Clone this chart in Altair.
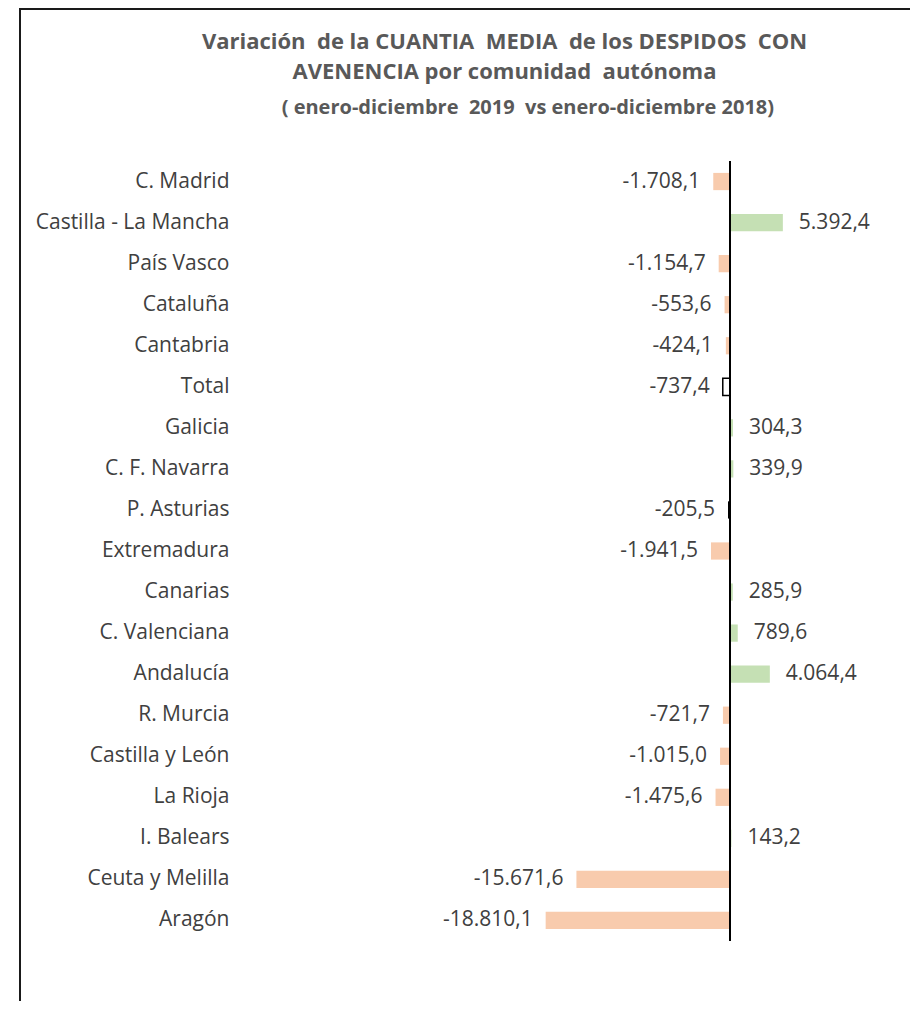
import altair as alt
import pandas as pd

categorias = ["C. Madrid", "Castilla - La Mancha", "País Vasco", "Cataluña", "Cantabria",
              "Total", "Galicia", "C. F. Navarra", "P. Asturias", "Extremadura", "Canarias",
              "C. Valenciana", "Andalucía", "R. Murcia", "Castilla y León", "La Rioja",
              "I. Balears", "Ceuta y Melilla", "Aragón"]
variacion = [-1708.1, 5392.4, -1154.7, -553.6, -424.1, -737.4, 304.3, 339.9, -205.5,
             -1941.5, 285.9, 789.6, 4064.4, -721.7, -1015.0, -1475.6, 143.2, -15671.6, -18810.1]

def fmt(v):
    s = f"{v:,.1f}"
    return s.replace(",", "X").replace(".", ",").replace("X", ".")

def tipo(c, v):
    if c == "Total":
        return "total"
    if c == "P. Asturias":
        return "destacado"
    return "pos" if v >= 0 else "neg"

df = pd.DataFrame({
    "cat": categorias,
    "val": variacion,
    "label": [fmt(v) for v in variacion],
    "tipo": [tipo(c, v) for c, v in zip(categorias, variacion)],
})

FONT = "Open Sans"
TXT = "#404040"
XDOM = [-50510, 18367]
FS = 21
SP = "\u00a0 "

y_enc = alt.Y("cat:N", sort=categorias, title=None,
              scale=alt.Scale(paddingInner=0.58, paddingOuter=0.29),
              axis=alt.Axis(domain=False, ticks=False, labelPadding=6, labelFont=FONT,
                            labelFontSize=FS, labelColor=TXT, labelLimit=300))
x_enc = alt.X("val:Q", title=None, axis=None,
              scale=alt.Scale(domain=XDOM, nice=False, zero=False))

base = alt.Chart(df)

bars = base.mark_bar(strokeWidth=1.5).encode(
    y=y_enc, x=x_enc, x2=alt.datum(0),
    fill=alt.Fill("tipo:N", legend=None,
                  scale=alt.Scale(domain=["neg", "pos", "total", "destacado"],
                                  range=["#F8CBAD", "#C5E0B4", "#FFFFFF", "#000000"])),
    stroke=alt.value("black"),
    strokeOpacity=alt.condition("datum.tipo == 'total'", alt.value(1), alt.value(0)),
)

neg_labels = base.transform_filter("datum.val < 0").mark_text(
    align="right", baseline="middle", dx=-13, font=FONT, fontSize=FS, color=TXT
).encode(y=y_enc, x=x_enc, text="label:N")

pos_labels = base.transform_filter("datum.val >= 0").mark_text(
    align="left", baseline="middle", dx=16, font=FONT, fontSize=FS, color=TXT
).encode(y=y_enc, x=x_enc, text="label:N")

zero = alt.Chart(pd.DataFrame({"z": [0]})).mark_rule(color="black", strokeWidth=2).encode(
    x=alt.X("z:Q", scale=alt.Scale(domain=XDOM, nice=False, zero=False), axis=None)
)

frame_left = alt.Chart(pd.DataFrame({"z": [0]})).mark_rule(color="#1a1a1a", strokeWidth=2).encode(
    x=alt.value(-215), y=alt.value(-152), y2=alt.value(900))
frame_top = alt.Chart(pd.DataFrame({"z": [0]})).mark_rule(color="#1a1a1a", strokeWidth=2).encode(
    x=alt.value(-216), x2=alt.value(700), y=alt.value(-152))

chart = alt.layer(bars, zero, neg_labels, pos_labels, frame_left, frame_top).properties(
    width=675, height=780,
    autosize=alt.AutoSizeParams(type="none"),
    padding={"left": 227, "top": 153, "right": 0, "bottom": 60},
    title=alt.Title(
        text=[f"Variación{SP}de la CUANTIA{SP}MEDIA{SP}de los DESPIDOS{SP}CON",
              f"AVENENCIA por comunidad{SP}autónoma"],
        subtitle="\u200b" + "\u00a0" * 8 + f" ( enero-diciembre{SP}2019{SP}vs enero-diciembre 2018)",
        anchor="middle", frame="group", dx=-68, offset=-111,
        font=FONT, fontSize=22, fontWeight="bold", color="#595959", lineHeight=30,
        subtitleFont=FONT, subtitleFontSize=20, subtitleFontWeight="bold",
        subtitleColor="#595959", subtitlePadding=14,
    ),
).configure_view(stroke=None)

chart.save("out.html", embed_options={"renderer": "svg", "actions": False})
